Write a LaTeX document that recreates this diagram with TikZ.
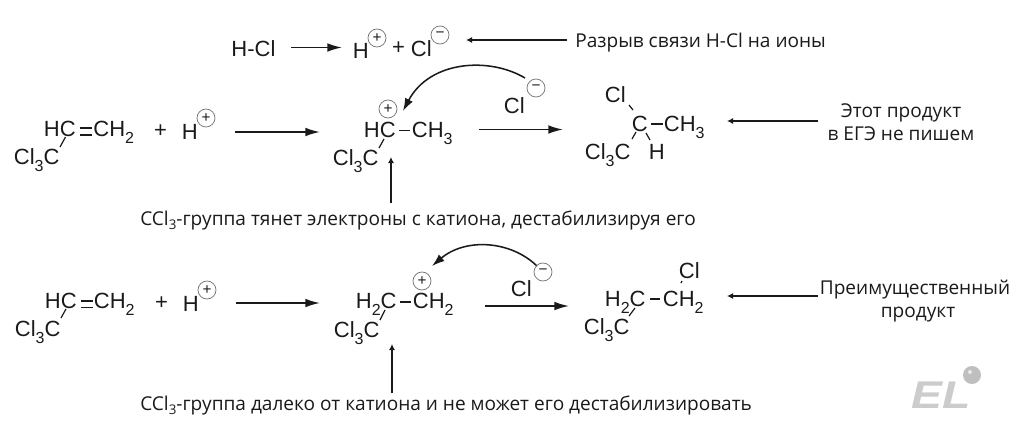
\documentclass[tikz,border=0pt]{standalone}
\usepackage{fontspec}
\setmainfont{Open Sans}
\newfontfamily\chemfont{Liberation Sans}
\usetikzlibrary{arrows.meta}
\definecolor{ink}{HTML}{1A1A1A}
\newcommand{\chs}[1]{\raisebox{-0.33em}{\fontsize{12}{12}\selectfont #1}}
\newcommand{\tsb}[1]{\raisebox{-0.25em}{\fontsize{10}{10}\selectfont #1}}
\newcommand{\bondline}[3]{\coordinate (#1a) at (#2);\coordinate (#1b) at (#3);\draw[bond] (#1a) -- (#1b);}
\tikzset{
  chem/.style={inner sep=0pt,anchor=base west,xshift=-1pt,text=ink,font=\chemfont\fontsize{16.5}{18}\selectfont},
  rutext/.style={inner sep=0pt,anchor=base west,text=ink,font=\fontsize{14.3}{16}\selectfont},
  rucenter/.style={rutext,anchor=base},
  bond/.style={draw=ink,line width=0.9pt},
  rxn/.style={draw=ink,line width=1.2pt,-{Latex[length=11pt,width=6.5pt]}},
  note/.style={draw=ink,line width=0.9pt,-{Latex[length=4.5pt,width=4.5pt]}},
  curved/.style={draw=ink,line width=1.15pt,-{Latex[length=9.5pt,width=6.5pt]}},
  charge/.style={circle,draw=black!55,line width=0.55pt,minimum size=13.5pt,inner sep=0pt,text=ink,font=\chemfont\fontsize{11.5}{11.5}\selectfont},
  x=0.75pt,y=-0.75pt
}
\begin{document}
\begin{tikzpicture}
\useasboundingbox (0,0) rectangle (1024,426);
% row 0
\node[chem] (hcl) at (232.5,56) {H-Cl};
\node[chem] (h0) at (354,58) {H};
\node[charge] (h0c) at (377,38) {+};
\node[chem,anchor=center] (p0) at (400,48) {+};
\node[chem] (cl0) at (412,56) {Cl};
\node[charge] (cl0c) at (440,35) {−};
\coordinate (a0s) at (291,47.5);\coordinate (a0e) at (342,47.5);
\draw[rxn] (a0s) -- (a0e);
\coordinate (n0s) at (567,40);\coordinate (n0e) at (466,40);
\draw[note] (n0s) -- (n0e);
\node[rutext] (t0) at (575,47.5) {Разрыв связи H-Cl на ионы};
% row 1 reactant
\node[chem] (r1a) at (45,136) {HC};
\node[chem] (r1b) at (94.5,136) {CH\chs{2}};
\node[chem] (r1c) at (15,164) {Cl\chs{3}C};
\bondline{b1}{65.5,137}{60,147}
\bondline{b2}{80,128}{92,128}
\bondline{b3}{80,135}{92,135}
\node[chem,anchor=center] (p1) at (162,131) {+};
\node[chem] (h1) at (183,139) {H};
\node[charge] (h1c) at (206,118) {+};
\coordinate (a1s) at (235,132);\coordinate (a1e) at (320,132);
\draw[rxn] (a1s) -- (a1e);
% row 1 intermediate
\node[chem] (m1a) at (365,137) {HC};
\node[charge] (m1c) at (388,109) {+};
\node[chem] (m1b) at (413,137) {CH\chs{3}};
\node[chem] (m1d) at (334,165) {Cl\chs{3}C};
\bondline{b4}{399,130.5}{410,130.5}
\bondline{b5}{384,139}{379,148}
\coordinate (n1s) at (391,203);\coordinate (n1e) at (391,157);
\draw[note] (n1s) -- (n1e);
\coordinate (c1s) at (525,78);\coordinate (c1e) at (403,111);
\draw[curved] (c1s) .. controls (490,57) and (430,60) .. (c1e);
\node[chem] (cl1) at (505,113) {Cl};
\node[charge] (cl1c) at (536,88) {−};
\coordinate (a2s) at (479,129.5);\coordinate (a2e) at (563,129.5);
\draw[rxn] (a2s) -- (a2e);
% row 1 product
\node[chem] (q1a) at (606,102) {Cl};
\node[chem] (q1b) at (633,131) {C};
\node[chem] (q1c) at (665,131) {CH\chs{3}};
\node[chem] (q1d) at (586,159) {Cl\chs{3}C};
\node[chem] (q1e) at (650,159) {H};
\bondline{b6}{629,105}{633,110}
\bondline{b7}{651,124}{663,124}
\bondline{b8}{636,132}{632,139}
\bondline{b9}{646,133}{650,140}
\coordinate (n2s) at (818,121);\coordinate (n2e) at (727,121);
\draw[note] (n2s) -- (n2e);
\node[rucenter] (t1a) at (901,117) {Этот продукт};
\node[rucenter] (t1b) at (901,140) {в ЕГЭ не пишем};
\node[rutext] (t2) at (140,225) {CCl\tsb{3}-группа тянет электроны с катиона, дестабилизируя его};
% row 2 reactant
\node[chem] (r2a) at (46,308) {HC};
\node[chem] (r2b) at (95,308) {CH\chs{2}};
\node[chem] (r2c) at (16,336) {Cl\chs{3}C};
\bondline{b10}{66,309}{61,318}
\bondline{b11}{81,301}{93,301}
\bondline{b12}{81,307.5}{93,307.5}
\node[chem,anchor=center] (p2) at (163,303) {+};
\node[chem] (h2) at (184,311) {H};
\node[charge] (h2c) at (207,290) {+};
\coordinate (a3s) at (236,303);\coordinate (a3e) at (320,303);
\draw[rxn] (a3s) -- (a3e);
% row 2 intermediate
\node[chem] (m2a) at (357,308) {H\chs{2}C};
\node[chem] (m2b) at (414,308) {CH\chs{2}};
\node[charge] (m2c) at (422,281) {+};
\node[chem] (m2d) at (335,337) {Cl\chs{3}C};
\bondline{b13}{400,302}{411,302}
\bondline{b14}{385,310}{380,320}
\coordinate (n3s) at (392,393);\coordinate (n3e) at (392,344);
\draw[note] (n3s) -- (n3e);
\coordinate (c2s) at (537,266);\coordinate (c2e) at (432,266);
\draw[curved] (c2s) .. controls (510,240) and (465,238) .. (c2e);
\node[chem] (cl2) at (512,296) {Cl};
\node[charge] (cl2c) at (543,272) {−};
\coordinate (a4s) at (485,306);\coordinate (a4e) at (569,306);
\draw[rxn] (a4s) -- (a4e);
% row 2 product
\node[chem] (q2a) at (606,306) {H\chs{2}C};
\node[chem] (q2b) at (664,306) {CH\chs{2}};
\node[chem] (q2c) at (680,278) {Cl};
\node[chem] (q2d) at (585,334) {Cl\chs{3}C};
\bondline{b15}{650,299}{660,299}
\bondline{b16}{682,281}{681,283}
\bondline{b17}{635,308}{629,316}
\coordinate (n4s) at (818,296);\coordinate (n4e) at (727,296);
\draw[note] (n4s) -- (n4e);
\node[rucenter] (t3a) at (915,294) {Преимущественный};
\node[rucenter] (t3b) at (918,317) {продукт};
\node[rutext] (t4) at (140,410) {CCl\tsb{3}-группа далеко от катиона и не может его дестабилизировать};
% logo
\node[inner sep=0pt,anchor=base west,text=black!20,xscale=1.2,font=\chemfont\bfseries\itshape\fontsize{29}{30}\selectfont] (logo) at (911,408) {EL};
\node[circle,fill=black!25,minimum size=13.5pt,inner sep=0pt] (dot) at (972,375) {};
\node[circle,fill=black!8,minimum size=3pt,inner sep=0pt] (spot) at (970,372) {};
\end{tikzpicture}
\end{document}
